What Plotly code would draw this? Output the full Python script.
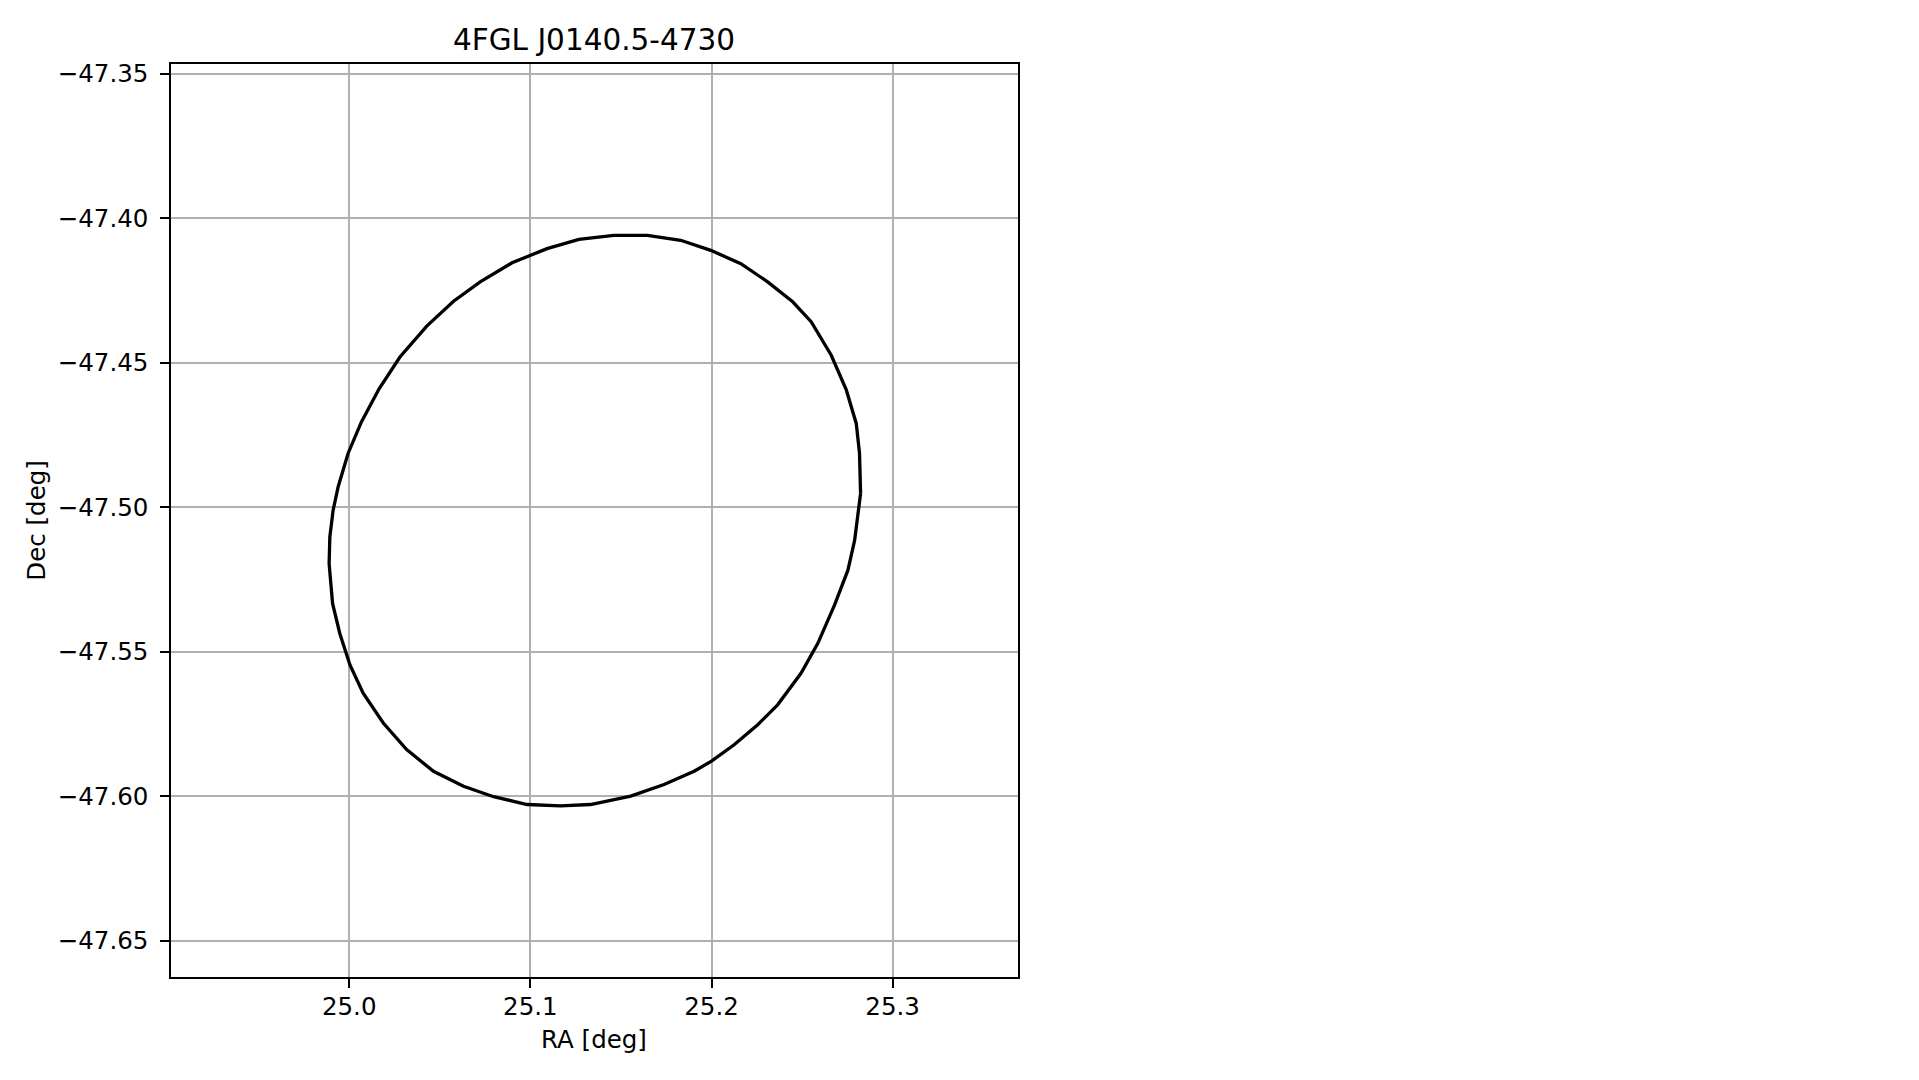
import plotly.graph_objects as go

title_text = "4FGL J0140.5-4730"
x_label = "RA [deg]"
y_label = "Dec [deg]"

ra_vals = [25.2823, 25.2817, 25.2799, 25.2744, 25.2661, 25.2550, 25.2448, 25.2310,
           25.2162, 25.1996, 25.1830, 25.1646, 25.1460, 25.1268, 25.1092, 25.0899,
           25.0723, 25.0576, 25.0428, 25.0280, 25.0165, 25.0068, 24.9994, 24.9939,
           24.9911, 24.9893, 24.9889, 24.9908, 24.9948, 25.0004, 25.0077, 25.0188,
           25.0317, 25.0465, 25.0631, 25.0797, 25.0982, 25.1166, 25.1332, 25.1554,
           25.1738, 25.1904, 25.2000, 25.2125, 25.2255, 25.2365, 25.2494, 25.2587,
           25.2679, 25.2753, 25.2790, 25.2812, 25.2823]
dec_vals = [-47.4952, -47.4813, -47.4710, -47.4594, -47.4474, -47.4358, -47.4289, -47.4220,
            -47.4157, -47.4111, -47.4076, -47.4059, -47.4059, -47.4073, -47.4105, -47.4154,
            -47.4220, -47.4287, -47.4373, -47.4480, -47.4590, -47.4704, -47.4813, -47.4929,
            -47.5011, -47.5103, -47.5195, -47.5333, -47.5437, -47.5546, -47.5644, -47.5747,
            -47.5839, -47.5914, -47.5966, -47.6002, -47.6029, -47.6034, -47.6029, -47.6000,
            -47.5960, -47.5914, -47.5879, -47.5822, -47.5753, -47.5684, -47.5575, -47.5471,
            -47.5339, -47.5218, -47.5115, -47.5011, -47.4952]

x_ticks = [25.0, 25.1, 25.2, 25.3]
x_tick_labels = ["25.0", "25.1", "25.2", "25.3"]
y_ticks = [-47.65, -47.60, -47.55, -47.50, -47.45, -47.40, -47.35]
y_tick_labels = ["\u221247.65", "\u221247.60", "\u221247.55", "\u221247.50",
                 "\u221247.45", "\u221247.40", "\u221247.35"]

x_range = [24.9015, 25.3692]
y_range = [-47.6626, -47.3467]

W, H = 1900, 1060
OFF = 8  # page body margin
L, R, T, B = 170.8 - OFF, 1018.0 - OFF, 64.3 - OFF, 977.0 - OFF

font_family = "DejaVu Sans"
tick_size = 24.5

fig = go.Figure()
fig.add_trace(go.Scatter(x=ra_vals, y=dec_vals, mode="lines",
                         line=dict(color="black", width=3.3), showlegend=False,
                         hoverinfo="skip"))

axis_common = dict(
    showgrid=True, gridcolor="#b0b0b0", gridwidth=1.9,
    showline=True, linecolor="black", linewidth=2, mirror=True,
    ticks="outside", ticklen=8.5, tickwidth=1.9, tickcolor="black",
    zeroline=False, automargin=False,
    tickfont=dict(family=font_family, size=tick_size, color="black"),
)

fig.update_layout(
    width=W, height=H,
    paper_bgcolor="white", plot_bgcolor="white",
    margin=dict(l=0, r=0, t=0, b=0),
    xaxis=dict(domain=[L / W, R / W], range=x_range, tickmode="array",
               tickvals=x_ticks, ticktext=x_tick_labels, ticklabelstandoff=-2,
               **axis_common),
    yaxis=dict(domain=[(H - B) / H, (H - T) / H], range=y_range, tickmode="array",
               tickvals=y_ticks, ticktext=y_tick_labels, ticklabelstandoff=7,
               **axis_common),
    annotations=[
        dict(text=title_text, x=(L + R) / 2 / W, y=(H - (40 - OFF)) / H, xref="paper", yref="paper",
             xanchor="center", yanchor="middle", showarrow=False,
             font=dict(family=font_family, size=29.5, color="black")),
        dict(text=x_label, x=(L + R) / 2 / W, y=(H - (1039 - OFF)) / H, xref="paper", yref="paper",
             xanchor="center", yanchor="middle", showarrow=False,
             font=dict(family=font_family, size=tick_size, color="black")),
        dict(text=y_label, x=(37 - OFF) / W, y=(H - (T + B) / 2) / H, xref="paper", yref="paper",
             xanchor="center", yanchor="middle", showarrow=False, textangle=-90,
             font=dict(family=font_family, size=tick_size, color="black")),
    ],
)

fig.write_html("out.html")
